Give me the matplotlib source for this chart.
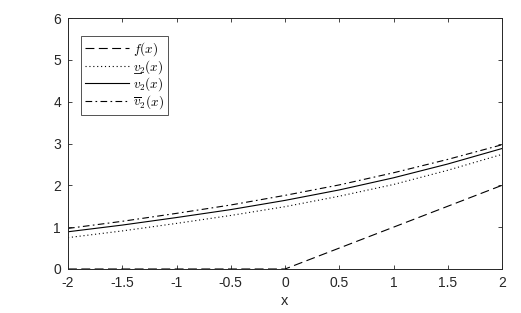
import numpy as np
import matplotlib
matplotlib.use("Agg")
import matplotlib.pyplot as plt
from matplotlib.lines import Line2D

# values
x_pts = [-2, -1.5, -1, -0.5, 0, 0.5, 1, 1.5, 2]
f_vals = [0, 0, 0, 0, 0, 0.5, 1, 1.5, 2]
v2_lower = [0.75, 0.91, 1.09, 1.28, 1.49, 1.74, 2.02, 2.36, 2.74]
v2_mid = [0.89, 1.05, 1.23, 1.42, 1.64, 1.89, 2.18, 2.51, 2.88]
v2_upper = [0.97, 1.14, 1.33, 1.53, 1.76, 2.01, 2.30, 2.62, 2.97]
xticks = [-2, -1.5, -1, -0.5, 0, 0.5, 1, 1.5, 2]
yticks = [0, 1, 2, 3, 4, 5, 6]

plt.rcParams['font.family'] = ['Liberation Sans', 'DejaVu Sans']
plt.rcParams['mathtext.fontset'] = 'cm'

fig = plt.figure(figsize=(5.21, 3.13), dpi=100)
ax = fig.add_axes([68 / 521, 44 / 313, 434 / 521, 251 / 313])

lw = 0.8
ax.plot(x_pts, f_vals, color='k', lw=lw, dashes=(8, 4), label='$f(x)$')
ax.plot(x_pts, v2_lower, color='k', lw=lw, linestyle=(0, (1, 2.5)), label='$v_2(x)$')
ax.plot(x_pts, v2_mid, color='k', lw=lw, linestyle='-', label='$v_2(x)$')
ax.plot(x_pts, v2_upper, color='k', lw=lw, dashes=(6, 3, 1.5, 3), label=r'$\overline{v}_2(x)$')

ax.set_xlim(-2, 2)
ax.set_ylim(0, 6)
ax.set_xticks(xticks)
ax.set_xticklabels([f'{t:g}' for t in xticks])
ax.set_yticks(yticks)
ax.tick_params(direction='in', top=True, right=True, length=3, width=0.6,
               labelsize=10, colors='#262626', pad=5)
for s in ax.spines.values():
    s.set_linewidth(0.7)
    s.set_color('#262626')
ax.set_xlabel('x', fontsize=10.5, color='#262626', labelpad=3)

leg = ax.legend(loc='upper left', bbox_to_anchor=(13 / 434, 1 - 18 / 251),
                fontsize=9.5, frameon=True, fancybox=False, edgecolor='#262626',
                handlelength=3.3, handletextpad=0.35, borderpad=0.3,
                labelspacing=0.0, borderaxespad=0)
leg.get_frame().set_linewidth(0.7)

# underline the v in the lower-bound label (mathtext has no \underline)
fig.canvas.draw()
r = fig.canvas.get_renderer()
bb = leg.get_texts()[1].get_window_extent(r)
inv = fig.transFigure.inverted()
x0, y0 = inv.transform((bb.x0 + 1, bb.y0 + 2.5))
x1, _ = inv.transform((bb.x0 + 7.5, bb.y0))
fig.add_artist(Line2D([x0, x1], [y0, y0], color='k', lw=0.6, transform=fig.transFigure))

fig.savefig('out.png', dpi=100)
